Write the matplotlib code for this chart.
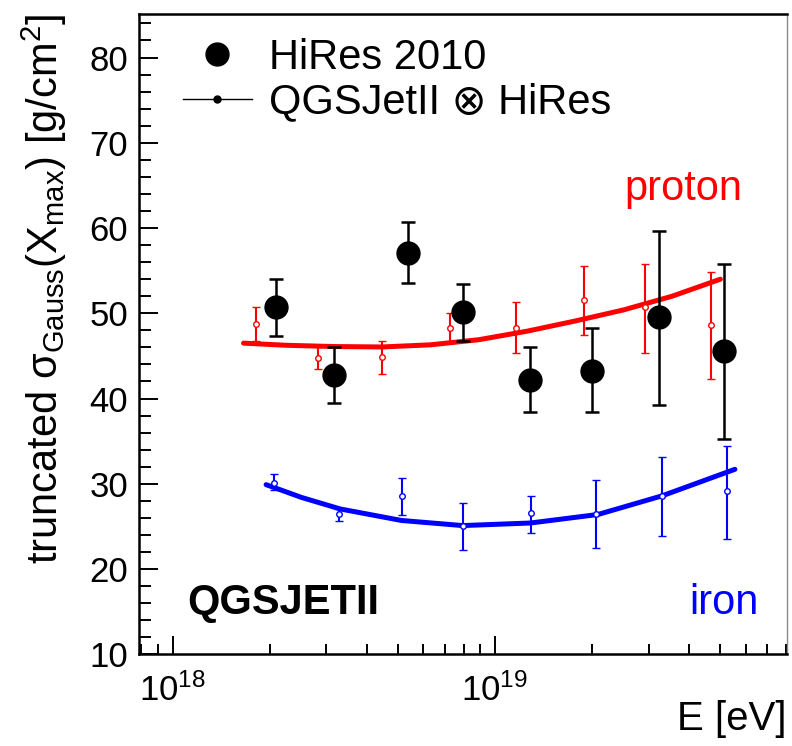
import numpy as np
import matplotlib
matplotlib.use("Agg")
import matplotlib.pyplot as plt
from matplotlib.lines import Line2D
from matplotlib.ticker import LogLocator, MultipleLocator, NullFormatter, LogFormatterMathtext

plt.rcParams['font.family'] = ['Liberation Sans', 'DejaVu Sans']
plt.rcParams['mathtext.fontset'] = 'custom'
plt.rcParams['mathtext.rm'] = 'Liberation Sans'
plt.rcParams['mathtext.it'] = 'Liberation Sans:italic'
plt.rcParams['mathtext.bf'] = 'Liberation Sans:bold'

# HiRes 2010 measurements (log10 of energy in eV)
hires_logE = [18.32, 18.50, 18.73, 18.90, 19.11, 19.30, 19.51, 19.71]
hires_sigma = [50.7, 42.8, 57.1, 50.2, 42.2, 43.2, 49.6, 45.6]
hires_err_up = [3.3, 3.3, 3.6, 3.2, 3.9, 5.1, 10.1, 10.2]
hires_err_lo = [3.4, 3.3, 3.6, 3.4, 3.8, 4.8, 10.4, 10.3]

# QGSJetII proton folded with HiRes acceptance
proton_logE = [18.26, 18.45, 18.65, 18.86, 19.065, 19.276, 19.465, 19.672]
proton_sigma = [48.8, 44.8, 44.9, 48.3, 48.3, 51.5, 50.7, 48.6]
proton_err_up = [1.9, 1.3, 1.9, 1.7, 3.0, 4.0, 5.1, 6.3]
proton_err_lo = [2.1, 1.3, 2.0, 1.8, 3.0, 4.1, 5.4, 6.3]

# QGSJetII iron folded with HiRes acceptance
iron_logE = [18.314, 18.515, 18.711, 18.901, 19.113, 19.315, 19.519, 19.721]
iron_sigma = [30.1, 26.4, 28.6, 25.0, 26.6, 26.4, 28.6, 29.2]
iron_err_up = [1.0, 0.6, 2.1, 2.7, 2.0, 4.1, 4.5, 5.2]
iron_err_lo = [0.8, 0.8, 2.3, 2.8, 2.4, 3.9, 4.7, 5.7]

# fitted trend curves
proton_fit_logE = [18.22, 18.35, 18.5, 18.65, 18.8, 18.95, 19.1, 19.25, 19.4, 19.55, 19.7]
proton_fit = [46.5, 46.25, 46.1, 46.05, 46.3, 46.9, 47.9, 49.1, 50.4, 52.0, 54.0]
iron_fit_logE = [18.29, 18.4, 18.52, 18.71, 18.9, 19.11, 19.32, 19.52, 19.745]
iron_fit = [29.9, 28.4, 27.05, 25.7, 25.1, 25.4, 26.4, 28.6, 31.7]

def energy(logs):
    return np.power(10.0, np.asarray(logs))

fig = plt.figure(figsize=(7.92, 7.46), dpi=100)
ax = fig.add_axes([0.1759, 0.1229, 0.8174, 0.8583])

RED = '#ff0000'
BLUE = '#0000ff'

ax.plot(energy(proton_fit_logE), proton_fit, color=RED, lw=3.6, solid_capstyle='round',
        solid_joinstyle='round', zorder=2)
ax.plot(energy(iron_fit_logE), iron_fit, color=BLUE, lw=3.6, solid_capstyle='round',
        solid_joinstyle='round', zorder=2)

ax.errorbar(energy(proton_logE), proton_sigma, yerr=[proton_err_lo, proton_err_up],
            fmt='o', ms=4, mfc='white', mec=RED, mew=1.0, ecolor=RED, elinewidth=1.5,
            capsize=3.0, capthick=1.5, zorder=3)
ax.errorbar(energy(iron_logE), iron_sigma, yerr=[iron_err_lo, iron_err_up],
            fmt='o', ms=4, mfc='white', mec=BLUE, mew=1.0, ecolor=BLUE, elinewidth=1.5,
            capsize=3.0, capthick=1.5, zorder=3)
ax.errorbar(energy(hires_logE), hires_sigma, yerr=[hires_err_lo, hires_err_up],
            fmt='o', ms=16.5, color='black', ecolor='black', elinewidth=1.8,
            capsize=4.7, capthick=1.8, zorder=4)

ax.set_xscale('log')
ax.set_xlim(7.88e17, 8.05e19)
ax.set_ylim(10, 85.1)

ax.xaxis.set_major_locator(LogLocator(base=10, numticks=10))
ax.xaxis.set_minor_locator(LogLocator(base=10, subs=np.arange(2, 10), numticks=20))
ax.xaxis.set_major_formatter(LogFormatterMathtext())
ax.xaxis.set_minor_formatter(NullFormatter())
ax.yaxis.set_major_locator(MultipleLocator(10))
ax.yaxis.set_minor_locator(MultipleLocator(2))

ax.tick_params(axis='both', which='both', direction='in', top=False, right=False, width=1.4)
ax.tick_params(axis='x', which='major', length=13, labelsize=25, pad=14)
ax.tick_params(axis='x', which='minor', length=7)
ax.tick_params(axis='y', which='major', length=14, labelsize=25, pad=8)
ax.tick_params(axis='y', which='minor', length=8.5)

for side in ('left', 'bottom', 'top'):
    ax.spines[side].set_linewidth(1.8)
    ax.spines[side].set_color('black')
ax.spines['right'].set_linewidth(1.0)
ax.spines['right'].set_color('#8a8a8a')

ax.set_ylabel('truncated σ$_{\\rm Gauss}$(X$_{\\rm max}$) [g/cm$^{2}$]', fontsize=30, loc='top')
ax.yaxis.set_label_coords(-0.108, 1.0)
ax.set_xlabel('E [eV]', fontsize=29, loc='right')
ax.xaxis.set_label_coords(1.0, -0.072)

ax.text(0.750, 0.7095, 'proton', color=RED, fontsize=30, transform=ax.transAxes,
        ha='left', va='baseline')
ax.text(0.849, 0.063, 'iron', color=BLUE, fontsize=30, transform=ax.transAxes,
        ha='left', va='baseline')
ax.text(0.0736, 0.063, 'QGSJETII', color='black', fontsize=30, fontweight='bold',
        transform=ax.transAxes, ha='left', va='baseline')

handles = [
    Line2D([], [], ls='none', marker='o', ms=16.5, color='black'),
    Line2D([], [], ls='-', lw=1.0, marker='o', ms=5, color='black'),
]
ax.legend(handles, ['HiRes 2010', 'QGSJetII ⊗ HiRes'], loc='upper left',
          bbox_to_anchor=(0.0675, 0.9625), frameon=False, fontsize=30,
          handlelength=1.65, handletextpad=0.41, borderpad=0, borderaxespad=0,
          labelspacing=0.1)

fig.savefig('out.png', dpi=100)
